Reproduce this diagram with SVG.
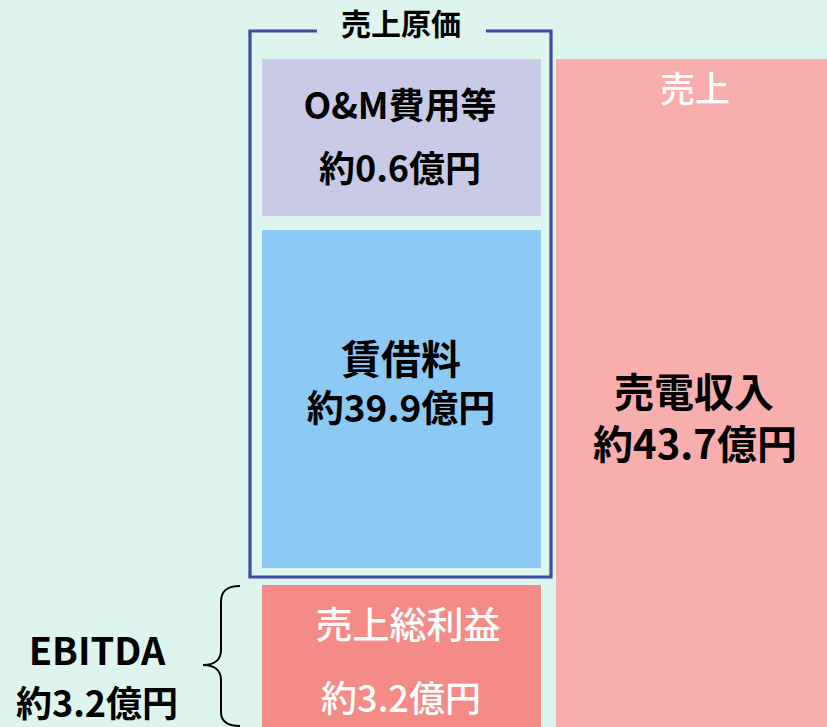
<svg xmlns="http://www.w3.org/2000/svg" width="827" height="727" viewBox="0 0 827 727">
<style>
text{font-family:"Noto Sans CJK JP","Noto Sans",sans-serif;text-anchor:middle;}
.b{font-weight:700;fill:#000;}
.w{font-weight:500;fill:#fff;}
</style>
<rect width="827" height="727" fill="#DEF4EE"/>
<g id="sales">
<rect x="556" y="59" width="271" height="668" fill="#F8AEAC"/>
<text class="w" x="695" y="102" font-size="35">売上</text>
<text class="b" x="694" y="407" font-size="40">売電収入</text>
<text class="b" x="695" y="459" font-size="40">約43.7億円</text>
</g>
<g id="cogs">
<path d="M317,31 H250 V577 H551 V31 H486" fill="none" stroke="#3A4DA0" stroke-width="3.2"/>
<text class="b" x="401" y="35" font-size="30">売上原価</text>
</g>
<g id="om">
<rect x="262" y="59" width="279" height="157" fill="#C9CBE6"/>
<text class="b" x="400" y="119" font-size="36">O&amp;M費用等</text>
<text class="b" x="400" y="182" font-size="36">約0.6億円</text>
</g>
<g id="lease">
<rect x="262" y="230" width="279" height="338" fill="#8DC9F5"/>
<text class="b" x="401" y="374" font-size="40">賃借料</text>
<text class="b" x="401" y="422" font-size="37">約39.9億円</text>
</g>
<g id="gross">
<rect x="262" y="585" width="279" height="142" fill="#F48B86"/>
<text class="w" x="408" y="639" font-size="37">売上総利益</text>
<text class="w" x="401" y="712" font-size="36">約3.2億円</text>
</g>
<g id="connectors">
<path d="M240,586 C228,586 221,590 221,602 L221,650 C221,660 214,665 203,665 C214,665 221,670 221,680 L221,712 C221,722 228,726 240,726" fill="none" stroke="#000" stroke-width="2"/>
</g>
<g id="ebitda">
<text class="b" x="97" y="665" font-size="38">EBITDA</text>
<text class="b" x="97" y="717" font-size="36">約3.2億円</text>
</g>
</svg>
